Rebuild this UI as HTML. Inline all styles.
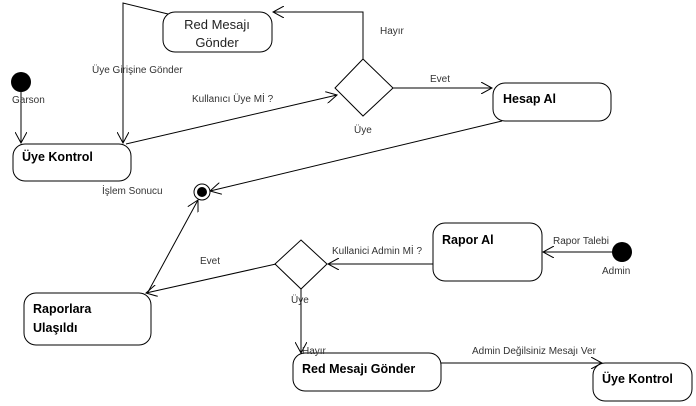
<!DOCTYPE html>
<html><head><meta charset="utf-8"><style>
html,body{margin:0;padding:0;background:#fff;}
svg{display:block;font-family:"Liberation Sans",sans-serif;}
.l{font-size:10px;fill:#333;}
.b{font-size:12.5px;font-weight:bold;fill:#000;}
.n{font-size:13px;fill:#222;}
</style></head><body>
<svg width="696" height="406" viewBox="0 0 696 406" xmlns="http://www.w3.org/2000/svg">
<defs><marker id="a" markerWidth="12" markerHeight="12" refX="11" refY="6" orient="auto" markerUnits="userSpaceOnUse"><path d="M0,0 L11,6 L0,12" fill="none" stroke="#000" stroke-width="1"/></marker></defs>
<g stroke="#000" stroke-width="1" fill="none">
<rect x="163" y="12" width="109" height="40" rx="12"/>
<rect x="13" y="144" width="118" height="37" rx="12"/>
<rect x="493" y="83" width="118" height="38" rx="12"/>
<rect x="24" y="293" width="127" height="52" rx="12"/>
<rect x="433" y="223" width="109" height="58" rx="12"/>
<rect x="293" y="353" width="148" height="38" rx="12"/>
<rect x="593" y="363" width="99" height="38" rx="12"/>
<path d="M363,59 L393,88 L363,116 L335,88 Z" fill="#fff"/>
<path d="M301,240 L327,264 L301,289 L275,264 Z" fill="#fff"/>
<path d="M21,92 L21,143" marker-end="url(#a)"/>
<path d="M168,14 L123,3 L123,143" marker-end="url(#a)"/>
<path d="M126,144 L337,95" marker-end="url(#a)"/>
<path d="M363,59 L363,12 L273,12" marker-end="url(#a)"/>
<path d="M393,88 L492,88" marker-end="url(#a)"/>
<path d="M502,121 L210,191" marker-end="url(#a)"/>
<path d="M148,292 L198,200" marker-end="url(#a)"/>
<path d="M276,264 L146,293" marker-end="url(#a)"/>
<path d="M433,264 L328,264" marker-end="url(#a)"/>
<path d="M612,252 L543,252" marker-end="url(#a)"/>
<path d="M301,289 L301,353" marker-end="url(#a)"/>
<path d="M441,363 L602,363" marker-end="url(#a)"/>
<circle cx="202" cy="192" r="8" fill="#fff"/>
</g>
<circle cx="202" cy="192" r="5" fill="#000"/>
<circle cx="21" cy="82" r="10" fill="#000"/>
<circle cx="622" cy="252" r="10" fill="#000"/>
<text class="n" x="217" y="29" text-anchor="middle">Red Mesajı</text>
<text class="n" x="217" y="47" text-anchor="middle">Gönder</text>
<text class="l" x="12" y="103">Garson</text>
<text class="l" x="92" y="73">Üye Girişine Gönder</text>
<text class="l" x="192" y="102">Kullanıcı Üye Mİ ?</text>
<text class="l" x="380" y="34">Hayır</text>
<text class="l" x="430" y="82">Evet</text>
<text class="l" x="354" y="133">Üye</text>
<text class="b" x="22" y="161">Üye Kontrol</text>
<text class="b" x="503" y="103">Hesap Al</text>
<text class="l" x="102" y="194">İşlem Sonucu</text>
<text class="l" x="200" y="264">Evet</text>
<text class="l" x="332" y="254">Kullanici Admin Mİ ?</text>
<text class="l" x="553" y="244">Rapor Talebi</text>
<text class="l" x="602" y="274">Admin</text>
<text class="b" x="442" y="244">Rapor Al</text>
<text class="b" x="33" y="313">Raporlara</text>
<text class="b" x="33" y="332">Ulaşıldı</text>
<text class="l" x="291" y="303">Üye</text>
<text class="l" x="302" y="354">Hayır</text>
<text class="l" x="472" y="354">Admin Değilsiniz Mesajı Ver</text>
<text class="b" x="302" y="373">Red Mesajı Gönder</text>
<text class="b" x="602" y="383">Üye Kontrol</text>
</svg>
</body></html>
